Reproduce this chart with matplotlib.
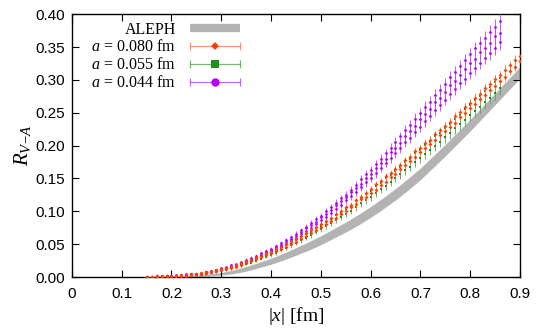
import numpy as np
import matplotlib
matplotlib.use('Agg')
import matplotlib.pyplot as plt
from matplotlib.lines import Line2D
from matplotlib.legend_handler import HandlerLine2D, HandlerTuple

plt.rcParams['font.family'] = 'Liberation Sans'
plt.rcParams['mathtext.fontset'] = 'custom'
plt.rcParams['mathtext.rm'] = 'Liberation Serif'
plt.rcParams['mathtext.it'] = 'Liberation Serif:italic'

# ALEPH band (centre and half width)
aleph_x = [0.200, 0.225, 0.250, 0.275, 0.300, 0.325, 0.350, 0.375, 0.400, 0.425, 0.450, 0.475, 0.500, 0.525, 0.550,
           0.575, 0.600, 0.625, 0.650, 0.675, 0.700, 0.725, 0.750, 0.775, 0.800, 0.825, 0.850, 0.875, 0.900]
aleph_y = [0.000, 0.0005, 0.0015, 0.003, 0.005, 0.008, 0.0125, 0.018, 0.024, 0.031, 0.039, 0.047, 0.056, 0.066, 0.076,
           0.087, 0.099, 0.112, 0.126, 0.141, 0.157, 0.175, 0.193, 0.212, 0.231, 0.251, 0.271, 0.291, 0.311]
aleph_dy = [0.000, 0.0005, 0.001, 0.0015, 0.002, 0.0028, 0.0035, 0.004, 0.0046, 0.0052, 0.0058, 0.0063, 0.0068, 0.0072, 0.0076,
            0.008, 0.0083, 0.0085, 0.0087, 0.0088, 0.0088, 0.0088, 0.0088, 0.0088, 0.0088, 0.0088, 0.0088, 0.0088, 0.0088]

# a = 0.080 fm : two groups of directions at each |x|
a080_x = [0.15, 0.16, 0.17, 0.18, 0.19, 0.20, 0.21, 0.22, 0.23, 0.24, 0.25, 0.26, 0.27, 0.28, 0.29, 0.30,
          0.31, 0.32, 0.33, 0.34, 0.35, 0.36, 0.37, 0.38, 0.39, 0.40, 0.41, 0.42, 0.43, 0.44, 0.45,
          0.46, 0.47, 0.48, 0.49, 0.50, 0.51, 0.52, 0.53, 0.54, 0.55, 0.56, 0.57, 0.58, 0.59, 0.60,
          0.61, 0.62, 0.63, 0.64, 0.65, 0.66, 0.67, 0.68, 0.69, 0.70, 0.71, 0.72, 0.73, 0.74, 0.75,
          0.76, 0.77, 0.78, 0.79, 0.80, 0.81, 0.82, 0.83, 0.84, 0.85, 0.86, 0.87, 0.88, 0.89, 0.90]
a080_hi = [0.000, 0.000, 0.001, 0.001, 0.001, 0.002, 0.002, 0.003, 0.003, 0.004, 0.005, 0.006, 0.007, 0.009, 0.010, 0.012,
           0.014, 0.016, 0.019, 0.021, 0.024, 0.026, 0.030, 0.032, 0.036, 0.038, 0.043, 0.045, 0.050, 0.053, 0.058,
           0.062, 0.067, 0.072, 0.076, 0.080, 0.086, 0.090, 0.096, 0.100, 0.106, 0.110, 0.117, 0.122, 0.128, 0.134,
           0.141, 0.146, 0.153, 0.158, 0.165, 0.170, 0.178, 0.183, 0.191, 0.196, 0.204, 0.209, 0.217, 0.223, 0.230,
           0.236, 0.245, 0.251, 0.259, 0.265, 0.273, 0.279, 0.287, 0.293, 0.301, 0.307, 0.315, 0.322, 0.330, 0.336]
a080_lo = [0.000, 0.000, 0.000, 0.000, 0.001, 0.001, 0.001, 0.002, 0.002, 0.003, 0.004, 0.004, 0.006, 0.007, 0.009, 0.010,
           0.012, 0.014, 0.016, 0.019, 0.021, 0.024, 0.027, 0.030, 0.033, 0.036, 0.039, 0.043, 0.046, 0.050, 0.054,
           0.058, 0.062, 0.067, 0.071, 0.076, 0.080, 0.086, 0.090, 0.096, 0.100, 0.106, 0.111, 0.118, 0.122, 0.128,
           0.133, 0.140, 0.145, 0.152, 0.157, 0.164, 0.170, 0.177, 0.183, 0.190, 0.196, 0.203, 0.209, 0.216, 0.222,
           0.229, 0.235, 0.243, 0.249, 0.257, 0.263, 0.271, 0.277, 0.285, 0.291, 0.299, 0.305, 0.314, 0.320, 0.328]
a080_err = [0.0005, 0.0005, 0.0005, 0.0005, 0.0005, 0.0005, 0.0005, 0.0005, 0.0005, 0.0005,
            0.001, 0.001, 0.001, 0.0012, 0.0012, 0.0015, 0.0015, 0.0015, 0.0018, 0.0018,
            0.002, 0.002, 0.002, 0.0022, 0.0022, 0.0025, 0.0025, 0.0025, 0.0028, 0.0028,
            0.003, 0.003, 0.003, 0.0032, 0.0032, 0.0035, 0.0035, 0.0035, 0.0038, 0.0038,
            0.004, 0.004, 0.004, 0.0042, 0.0042, 0.0045, 0.0045, 0.0045, 0.0048, 0.0048,
            0.005, 0.005, 0.005, 0.0052, 0.0052, 0.0055, 0.0055, 0.0055, 0.0058, 0.0058,
            0.006, 0.006, 0.006, 0.0062, 0.0062, 0.0065, 0.0065, 0.0065, 0.0068, 0.0068,
            0.007, 0.007, 0.007, 0.0072, 0.0072, 0.0075]

# a = 0.055 fm
a055_x = [0.15, 0.16, 0.17, 0.18, 0.19, 0.20, 0.21, 0.22, 0.23, 0.24, 0.25, 0.26, 0.27, 0.28, 0.29, 0.30,
          0.31, 0.32, 0.33, 0.34, 0.35, 0.36, 0.37, 0.38, 0.39, 0.40, 0.41, 0.42, 0.43, 0.44, 0.45,
          0.46, 0.47, 0.48, 0.49, 0.50, 0.51, 0.52, 0.53, 0.54, 0.55, 0.56, 0.57, 0.58, 0.59, 0.60,
          0.61, 0.62, 0.63, 0.64, 0.65, 0.66, 0.67, 0.68, 0.69, 0.70, 0.71, 0.72, 0.73, 0.74, 0.75,
          0.76, 0.77, 0.78, 0.79, 0.80, 0.81, 0.82, 0.83, 0.84, 0.85, 0.86]
a055_hi = [0.000, 0.000, 0.001, 0.001, 0.001, 0.002, 0.002, 0.003, 0.003, 0.004, 0.005, 0.005, 0.007, 0.008, 0.010, 0.011,
           0.014, 0.015, 0.018, 0.020, 0.023, 0.025, 0.029, 0.031, 0.035, 0.037, 0.042, 0.044, 0.049, 0.052, 0.057,
           0.060, 0.066, 0.069, 0.075, 0.078, 0.084, 0.088, 0.094, 0.098, 0.104, 0.108, 0.115, 0.120, 0.126, 0.131,
           0.138, 0.143, 0.150, 0.155, 0.162, 0.167, 0.175, 0.180, 0.188, 0.193, 0.201, 0.206, 0.214, 0.219, 0.227,
           0.233, 0.241, 0.247, 0.255, 0.261, 0.269, 0.275, 0.283, 0.289, 0.297, 0.303]
a055_lo = [0.000, 0.000, 0.000, 0.000, 0.001, 0.001, 0.001, 0.002, 0.002, 0.003, 0.003, 0.004, 0.005, 0.007, 0.008, 0.010,
           0.011, 0.013, 0.015, 0.018, 0.020, 0.022, 0.025, 0.028, 0.031, 0.034, 0.037, 0.041, 0.044, 0.048, 0.052,
           0.056, 0.060, 0.064, 0.069, 0.073, 0.077, 0.082, 0.087, 0.092, 0.096, 0.101, 0.106, 0.112, 0.117, 0.122,
           0.128, 0.134, 0.139, 0.145, 0.151, 0.156, 0.163, 0.168, 0.175, 0.181, 0.187, 0.194, 0.200, 0.206, 0.213,
           0.219, 0.226, 0.233, 0.239, 0.246, 0.253, 0.259, 0.266, 0.273, 0.280, 0.287]
a055_err = [0.0005, 0.0005, 0.0005, 0.0005, 0.0005, 0.0005, 0.0005, 0.0005, 0.0005, 0.0005,
            0.001, 0.001, 0.0012, 0.0012, 0.0015, 0.0015, 0.0018, 0.0018, 0.002, 0.002,
            0.0022, 0.0022, 0.0025, 0.0025, 0.0028, 0.0028, 0.003, 0.003, 0.0033, 0.0033,
            0.0036, 0.0036, 0.004, 0.004, 0.0043, 0.0043, 0.0046, 0.0046, 0.005, 0.005,
            0.0053, 0.0053, 0.0056, 0.0056, 0.006, 0.006, 0.0063, 0.0063, 0.0066, 0.0066,
            0.007, 0.007, 0.0073, 0.0073, 0.0076, 0.0076, 0.008, 0.008, 0.0083, 0.0083,
            0.0086, 0.0086, 0.009, 0.009, 0.0093, 0.0093, 0.0096, 0.0096, 0.010, 0.010,
            0.0103, 0.0103]

# a = 0.044 fm : three groups of directions
a044_x = [0.15, 0.16, 0.17, 0.18, 0.19, 0.20, 0.21, 0.22, 0.23, 0.24, 0.25, 0.26, 0.27, 0.28, 0.29, 0.30,
          0.31, 0.32, 0.33, 0.34, 0.35, 0.36, 0.37, 0.38, 0.39, 0.40, 0.41, 0.42, 0.43, 0.44, 0.45,
          0.46, 0.47, 0.48, 0.49, 0.50, 0.51, 0.52, 0.53, 0.54, 0.55, 0.56, 0.57, 0.58, 0.59, 0.60,
          0.61, 0.62, 0.63, 0.64, 0.65, 0.66, 0.67, 0.68, 0.69, 0.70, 0.71, 0.72, 0.73, 0.74, 0.75,
          0.76, 0.77, 0.78, 0.79, 0.80, 0.81, 0.82, 0.83, 0.84, 0.85, 0.86]
a044_hi = [0.000, 0.000, 0.001, 0.001, 0.002, 0.002, 0.003, 0.003, 0.004, 0.004, 0.005, 0.006, 0.008, 0.009, 0.011, 0.013,
           0.015, 0.018, 0.020, 0.023, 0.026, 0.029, 0.032, 0.036, 0.040, 0.043, 0.047, 0.052, 0.056, 0.061, 0.066,
           0.071, 0.076, 0.082, 0.088, 0.093, 0.100, 0.106, 0.113, 0.120, 0.125, 0.133, 0.140, 0.149, 0.156, 0.163,
           0.172, 0.180, 0.188, 0.197, 0.205, 0.214, 0.223, 0.231, 0.241, 0.249, 0.259, 0.267, 0.277, 0.285, 0.294,
           0.304, 0.312, 0.321, 0.330, 0.339, 0.348, 0.356, 0.364, 0.373, 0.381, 0.389]
a044_mid = [0.000, 0.000, 0.000, 0.001, 0.001, 0.001, 0.002, 0.002, 0.003, 0.004, 0.004, 0.005, 0.007, 0.008, 0.010, 0.012,
            0.014, 0.016, 0.019, 0.022, 0.024, 0.027, 0.031, 0.034, 0.038, 0.041, 0.045, 0.049, 0.054, 0.058, 0.063,
            0.068, 0.074, 0.079, 0.084, 0.091, 0.096, 0.102, 0.110, 0.115, 0.121, 0.129, 0.135, 0.142, 0.151, 0.157,
            0.166, 0.173, 0.180, 0.190, 0.197, 0.204, 0.215, 0.222, 0.230, 0.240, 0.248, 0.255, 0.266, 0.273, 0.281,
            0.292, 0.299, 0.307, 0.317, 0.325, 0.332, 0.342, 0.349, 0.356, 0.366, 0.372]
a044_lo = [0.000, 0.000, 0.000, 0.000, 0.001, 0.001, 0.001, 0.002, 0.002, 0.003, 0.004, 0.004, 0.006, 0.007, 0.009, 0.011,
           0.013, 0.015, 0.018, 0.020, 0.023, 0.026, 0.029, 0.033, 0.036, 0.039, 0.043, 0.047, 0.051, 0.056, 0.060,
           0.065, 0.070, 0.075, 0.081, 0.087, 0.092, 0.098, 0.104, 0.110, 0.117, 0.123, 0.130, 0.137, 0.144, 0.151,
           0.158, 0.166, 0.174, 0.181, 0.189, 0.196, 0.205, 0.212, 0.221, 0.229, 0.237, 0.245, 0.254, 0.261, 0.270,
           0.278, 0.286, 0.295, 0.302, 0.311, 0.318, 0.326, 0.334, 0.341, 0.349, 0.357]
a044_err = [0.0005, 0.0005, 0.0005, 0.0005, 0.0005, 0.0005, 0.0005, 0.0005, 0.0005, 0.0005,
            0.001, 0.001, 0.0012, 0.0012, 0.0015, 0.0015, 0.0018, 0.0018, 0.002, 0.002,
            0.0023, 0.0023, 0.0026, 0.0026, 0.003, 0.003, 0.0033, 0.0033, 0.0036, 0.0036,
            0.004, 0.004, 0.0043, 0.0043, 0.0046, 0.0046, 0.005, 0.005, 0.0053, 0.0053,
            0.0056, 0.0056, 0.006, 0.006, 0.0063, 0.0063, 0.0066, 0.0066, 0.007, 0.007,
            0.0073, 0.0073, 0.0076, 0.0076, 0.008, 0.008, 0.0083, 0.0083, 0.0086, 0.0086,
            0.009, 0.009, 0.0093, 0.0093, 0.0096, 0.0096, 0.010, 0.010, 0.0105, 0.0105,
            0.011, 0.011]

labels = ['ALEPH', '$a$ = 0.080 fm', '$a$ = 0.055 fm', '$a$ = 0.044 fm']
xticks = [0, 0.1, 0.2, 0.3, 0.4, 0.5, 0.6, 0.7, 0.8, 0.9]
yticks = [0.00, 0.05, 0.10, 0.15, 0.20, 0.25, 0.30, 0.35, 0.40]

gray = '#b3b3b3'
# (x, branches, err, marker colour, bar colour, marker, plot size, legend size, zorder)
s080 = (a080_x, [a080_hi, a080_lo], a080_err, '#ff4000', '#ff7a50', 'D', 2.0, 4.5, 5)
s055 = (a055_x, [a055_hi, a055_lo], a055_err, '#1f8f1f', '#4caa4c', 's', 2.0, 5.5, 3)
s044 = (a044_x, [a044_hi, a044_mid, a044_lo], a044_err, '#b400ff', '#c040ff', 'o', 2.0, 6.0, 4)

fig = plt.figure(figsize=(5.45, 3.29), dpi=100)
ax = fig.add_axes([0.132, 0.158, 0.822, 0.799])

ax.fill_between(aleph_x, np.array(aleph_y) - np.array(aleph_dy),
                np.array(aleph_y) + np.array(aleph_dy), color=gray, lw=0, zorder=1)

for x, branches, e, c, ec, m, ms, lms, z in [s055, s044, s080]:
    for y in branches:
        ax.errorbar(x, y, yerr=e, fmt=m, color=c, ecolor=ec, ms=ms, mew=0,
                    elinewidth=0.6, capsize=1.0, capthick=0.6, zorder=z)

# legend proxies (gnuplot style: label, then horizontal errorbar sample)
handles = [Line2D([], [], color=gray, lw=6, solid_capstyle='butt')]
hmap = {}
for x, branches, e, c, ec, m, ms, lms, z in [s080, s055, s044]:
    bar = Line2D([], [], color=ec, lw=0.9, marker='|', ms=6, mew=0.9, alpha=0.8)
    dot = Line2D([], [], color=c, ls='none', marker=m, ms=lms, mew=0)
    hmap[bar] = HandlerLine2D(numpoints=2, marker_pad=0)
    handles.append((bar, dot))
hmap[tuple] = HandlerTuple(ndivide=1)

leg = ax.legend(handles, labels, loc='upper right', bbox_to_anchor=(0.375, 0.972),
                frameon=False, markerfirst=False, numpoints=1, handler_map=hmap,
                prop={'family': 'Liberation Serif', 'size': 11.5},
                handlelength=3.1, handletextpad=0.9, labelspacing=0.12,
                borderpad=0, borderaxespad=0)

ax.set_xlim(0, 0.9)
ax.set_ylim(0, 0.4)
ax.set_xticks(xticks)
ax.set_xticklabels(['%g' % t for t in xticks])
ax.set_yticks(yticks)
ax.set_yticklabels(['%.2f' % t for t in yticks])
ax.tick_params(direction='in', top=True, right=True, length=5, width=0.8, labelsize=11, pad=5)
ax.tick_params(axis='x', pad=7)
for s in ax.spines.values():
    s.set_linewidth(1.0)

ax.set_xlabel('$|x|$ [fm]', fontsize=14, family='Liberation Serif', labelpad=3)
ax.set_ylabel('$R_{V\\!-\\!A}$', fontsize=15, family='Liberation Serif', labelpad=2)

fig.savefig('out.png', dpi=100)
